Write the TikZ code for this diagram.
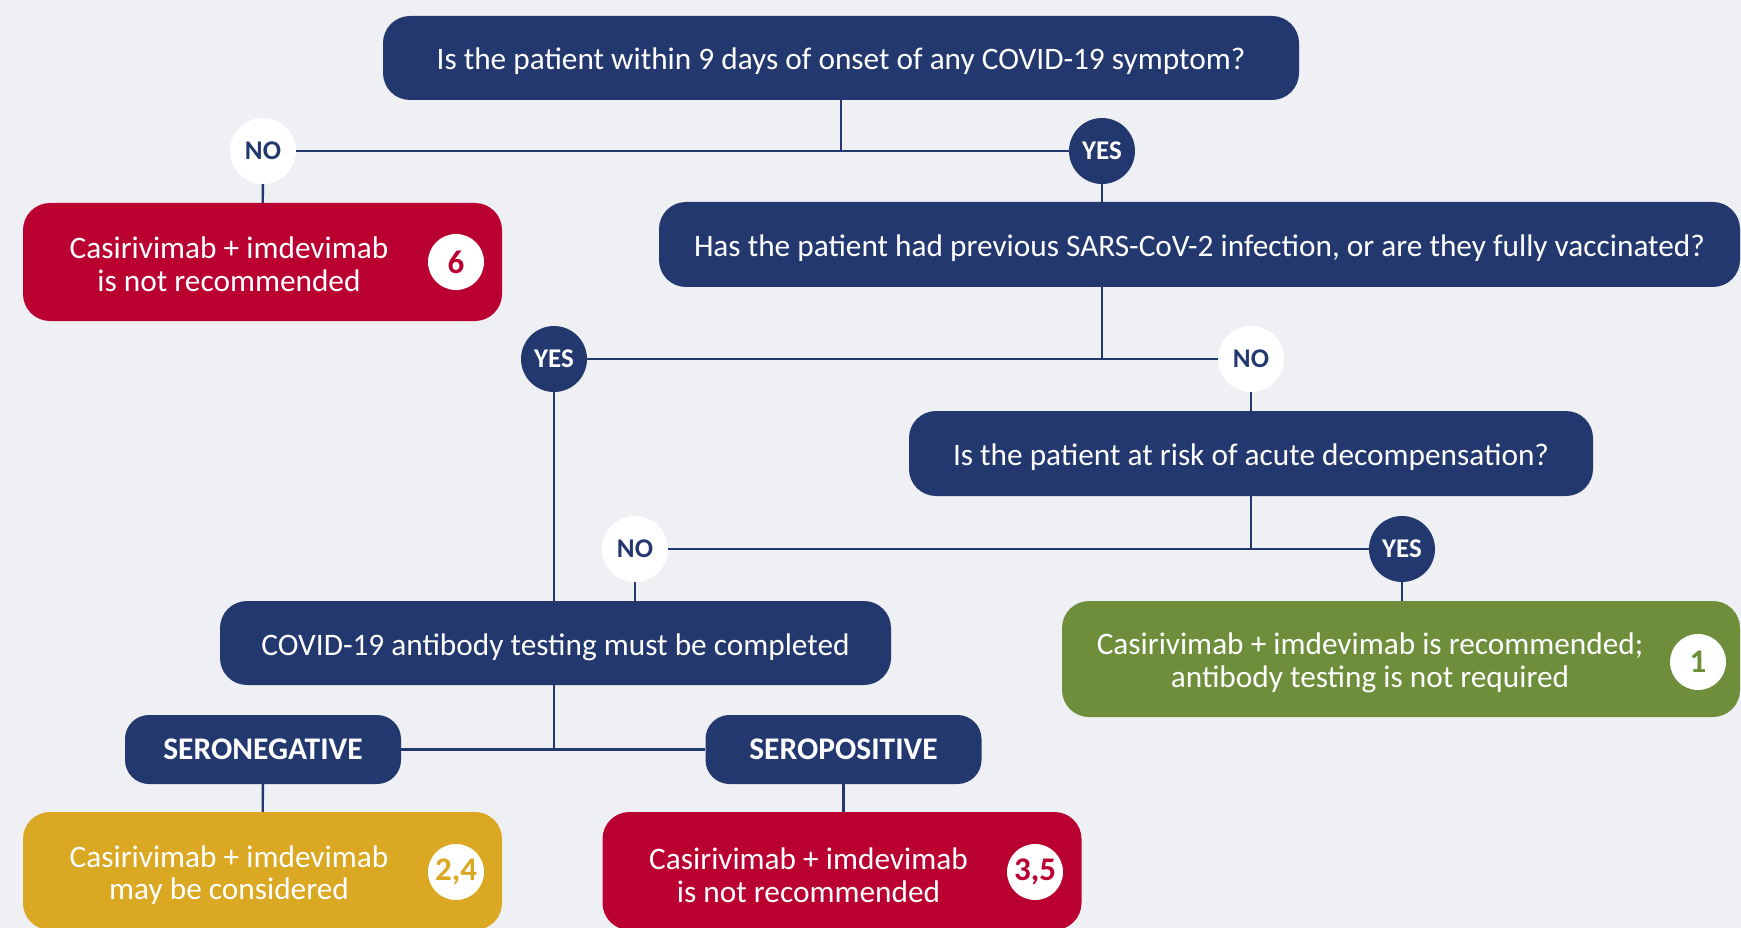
\documentclass[tikz,border=0pt]{standalone}
\usepackage{fontspec}
\setmainfont{Carlito}
\usetikzlibrary{positioning}
\definecolor{navy}{RGB}{35,56,110}
\definecolor{redbox}{RGB}{186,0,48}
\definecolor{yellowbox}{RGB}{219,168,36}
\definecolor{greenbox}{RGB}{110,142,60}
\definecolor{bg}{RGB}{239,240,244}

\begin{document}
\begin{tikzpicture}[x=1pt,y=-1pt]
		\tikzstyle{question}=[rectangle, rounded corners=27pt, fill=navy, text=white, align=center, text height=24pt, text depth=0pt, font=\fontsize{31.3}{33}\selectfont]
		\tikzstyle{outcome}=[rectangle, rounded corners=27pt, minimum width=479pt, minimum height=118pt]
		\tikzstyle{outtext}=[text=white, align=center, inner sep=0pt, font=\fontsize{31.3}{32.5}\selectfont]
		\tikzstyle{yes}=[circle, minimum size=66pt, inner sep=0pt, fill=navy, text=white, font=\bfseries\fontsize{27}{27}\selectfont]
		\tikzstyle{no}=[circle, minimum size=66pt, inner sep=0pt, fill=white, text=navy, font=\bfseries\fontsize{27}{27}\selectfont]
		\tikzstyle{badge}=[circle, minimum size=56pt, inner sep=0pt, fill=white, font=\bfseries\fontsize{33}{33}\selectfont]
		\tikzstyle{sero}=[rectangle, rounded corners=24pt, fill=navy, text=white, minimum width=276pt, minimum height=69pt, font=\bfseries\fontsize{31.5}{31.5}\selectfont]
		\tikzstyle{connect}=[draw=navy, line width=2.4pt]
		
		\fill[bg] (0,0) rectangle (1741,928);
		\useasboundingbox (0,0) rectangle (1741,928);
		
		\node[question, minimum width=916pt, minimum height=84pt]  (q1) at (841,58)     {Is the patient within 9 days of onset of any COVID-19 symptom?};
		\node[question, minimum width=1081pt, minimum height=85pt] (q2) at (1199.5,244.5) {Has the patient had previous SARS-CoV-2 infection, or are they fully vaccinated?};
		\node[question, minimum width=684pt, minimum height=85pt]  (q3) at (1251,453.5) {Is the patient at risk of acute decompensation?};
		\node[question, minimum width=671pt, minimum height=84pt]  (ab) at (555.5,643) {COVID-19 antibody testing must be completed};
		
		\node[no]  (no1)  at (263,151)  {NO};
		\node[yes] (yes1) at (1102,151) {YES};
		\node[yes] (yes2) at (554,359)  {YES};
		\node[no]  (no2)  at (1251,359) {NO};
		\node[no]  (no3)  at (635,549)  {NO};
		\node[yes] (yes3) at (1402,549) {YES};
		
		\node[sero] (neg) at (263,749.5)   {SERONEGATIVE};
		\node[sero] (pos) at (843.5,749.5) {SEROPOSITIVE};
		
		% outcomes
		\node[outcome, fill=redbox]    (notrec1) at (262.5,262) {};
		\node[outtext]                 (t1)      at (229,264)   {Casirivimab + imdevimab\\is not recommended};
		\node[badge, text=redbox]      (b6)      at (456,262)   {6};
		
		\node[outcome, fill=greenbox, minimum width=678pt, minimum height=116pt] (rec) at (1401,659) {};
		\node[outtext]                 (t2)      at (1370,663)  {Casirivimab + imdevimab is recommended;\\antibody testing is not required};
		\node[badge, text=greenbox]    (b1)      at (1698,662)  {1};
		
		\node[outcome, fill=yellowbox] (may)     at (262.5,871) {};
		\node[outtext]                 (t3)      at (229,875)   {Casirivimab + imdevimab\\may be considered};
		\node[badge, text=yellowbox]   (b24)     at (456,872)   {2,4};
		
		\node[outcome, fill=redbox]    (notrec2) at (842,871)   {};
		\node[outtext]                 (t4)      at (808.5,875) {Casirivimab + imdevimab\\is not recommended};
		\node[badge, text=redbox]      (b35)     at (1035,872)  {3,5};
		
		\path 
		(q1.south) edge [connect] (q1.south |- no1)
		(no1) edge [connect] (yes1)
		(no1) edge [connect] (notrec1)
		(yes1) edge [connect] (yes1 |- q2.north)
		
		(q2.south -| yes1) edge [connect] (yes1 |- yes2)
		(yes2) edge [connect] (no2)
		(no2) edge [connect] (q3)
		(yes2) edge [connect] (yes2 |- ab.north)
		
		(q3.south) edge [connect] (q3.south |- no3)
		(no3) edge [connect] (yes3)
		(no3) edge [connect] (no3 |- ab.north)
		(yes3) edge [connect] (yes3 |- rec.north)
		
		(ab.south -| yes2) edge [connect] (yes2 |- neg)
		(neg) edge [connect] (pos)
		(neg) edge [connect] (may)
		(pos) edge [connect] (pos |- notrec2.north)
		;
		
\end{tikzpicture}
\end{document}
